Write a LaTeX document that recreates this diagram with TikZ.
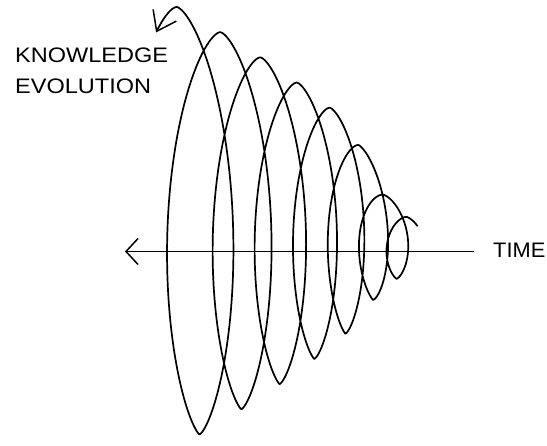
\documentclass[tikz,border=0pt]{standalone}
\usepackage{fontspec}
\setmainfont{Liberation Sans}
\usetikzlibrary{arrows.meta}
\tikzset{
  coil/.style={line width=1.7pt, line join=round},
  axisline/.style={line width=1.8pt},
  lbl/.style={inner sep=0pt, anchor=base west, font=\fontsize{21}{25}\selectfont}
}
\begin{document}
\begin{tikzpicture}[x=1pt, y=-1pt]
\useasboundingbox (0,0) rectangle (547,446);
% time axis
\coordinate (axR) at (474,251.5);
\coordinate (axL) at (125,251.5);
\draw[axisline, -{Straight Barb[length=12pt,width=26pt,line width=1.5pt]}] (axR) -- (axL);
% knowledge spiral
\draw[coil, {Straight Barb[length=18pt,width=26pt,line width=1.5pt]}-]
  plot[domain=-0.16:14.25, samples=900, variable=\t]
  ({177+22.73*\t-0.45*\t*\t + (46-2.3*\t)*sign(sin(180*\t))*pow(abs(sin(180*\t)),1.35)},
   {min(227+4*max(\t-9,0),245) - (220-12.6*\t-8.4*max(\t-9,0)+13.2*max(\t-12,0))*cos(180*\t)});
% labels
\node[lbl] (k) at (15,63) {\scalebox{1.12}[1]{KNOWLEDGE}};
\node[lbl] (e) at (15,94) {\scalebox{1.12}[1]{EVOLUTION}};
\node[lbl] (t) at (493,258) {\scalebox{1.04}[1]{TIME}};
\end{tikzpicture}
\end{document}
